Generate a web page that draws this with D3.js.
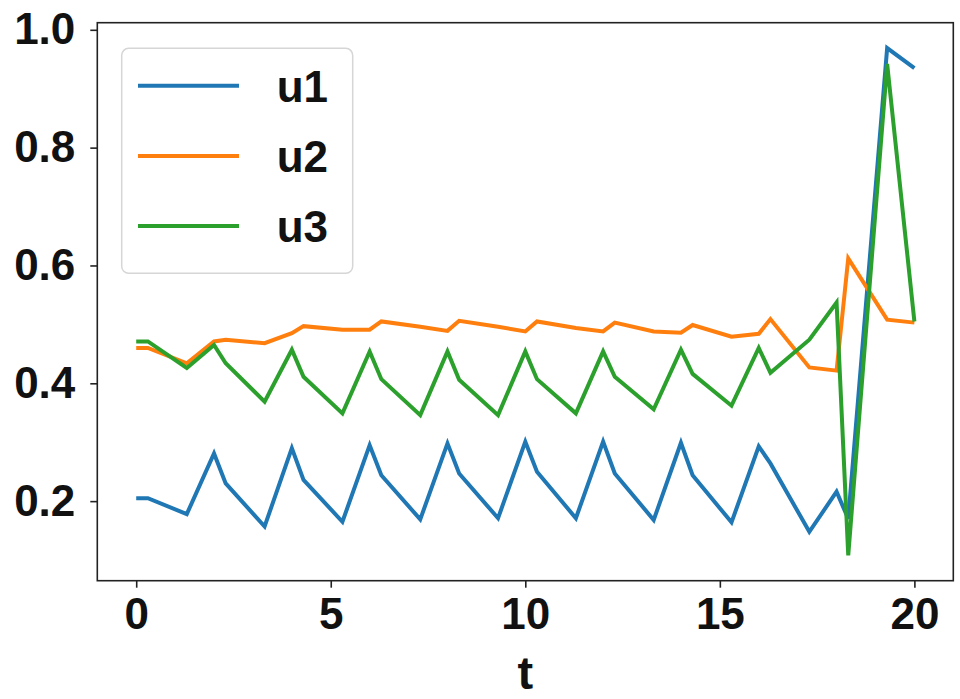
<!DOCTYPE html>
<html>
<head>
<meta charset="utf-8">
<script src="https://cdn.jsdelivr.net/npm/d3@7"></script>
<style>
  body { margin: 0; background: #fff; }
  svg { display: block; }
  text { font-family: "Liberation Sans", Arial, sans-serif; font-weight: bold; }
</style>
</head>
<body>
<div id="chart"></div>
<script>
// time points and the three series
const t = [0, 0.3, 1.3, 2, 2.3, 3.3, 4, 4.3, 5.3, 6, 6.3, 7.3, 8, 8.3, 9.3, 10,
  10.3, 11.3, 12, 12.3, 13.3, 14, 14.3, 15.3, 16, 16.3, 17.3, 18, 18.3, 19.3, 20];

const u1 = [0.205, 0.205, 0.178, 0.281, 0.230, 0.157, 0.290, 0.236, 0.165, 0.295, 0.244,
  0.169, 0.298, 0.247, 0.171, 0.301, 0.250, 0.171, 0.301, 0.247, 0.168, 0.299, 0.244,
  0.164, 0.293, 0.264, 0.148, 0.216, 0.170, 0.969, 0.935];

const u2 = [0.460, 0.460, 0.434, 0.471, 0.474, 0.468, 0.485, 0.497, 0.491, 0.491, 0.505,
  0.496, 0.489, 0.506, 0.496, 0.488, 0.505, 0.494, 0.488, 0.503, 0.488, 0.486, 0.499,
  0.479, 0.484, 0.509, 0.427, 0.4215, 0.612, 0.508, 0.503];

const u3 = [0.471, 0.471, 0.426, 0.465, 0.434, 0.369, 0.457, 0.411, 0.349, 0.454, 0.407,
  0.346, 0.454, 0.406, 0.346, 0.454, 0.407, 0.349, 0.454, 0.411, 0.356, 0.457, 0.416,
  0.362, 0.460, 0.418, 0.474, 0.537, 0.108, 0.942, 0.505];

const seriesNames = ["u1", "u2", "u3"];
const seriesColors = ["#1f77b4", "#ff7f0e", "#2ca02c"];
const xTicks = [0, 5, 10, 15, 20];
const yTicks = [0.2, 0.4, 0.6, 0.8, 1.0];

const width = 960;
const height = 699;
const margin = { top: 22.7, right: 6.7, bottom: 118.3, left: 97.3 };
const innerW = width - margin.left - margin.right;
const innerH = height - margin.top - margin.bottom;

const svg = d3.select("#chart").append("svg")
  .attr("width", width)
  .attr("height", height);

const g = svg.append("g")
  .attr("transform", `translate(${margin.left},${margin.top})`);

// matplotlib style 5% padding on both axes
const pad = (lo, hi) => [lo - (hi - lo) * 0.05, hi + (hi - lo) * 0.05];
const xExt = d3.extent(t);
const yExt = d3.extent([...u1, ...u2, ...u3]);

const x = d3.scaleLinear().domain(pad(xExt[0], xExt[1])).range([0, innerW]);
const y = d3.scaleLinear().domain(pad(yExt[0], yExt[1])).range([innerH, 0]);

const line = d3.line()
  .x((d, i) => x(t[i]))
  .y((d) => y(d));

[u1, u2, u3].forEach((s, k) => {
  g.append("path")
    .datum(s)
    .attr("fill", "none")
    .attr("stroke", seriesColors[k])
    .attr("stroke-width", 4)
    .attr("stroke-linejoin", "miter")
    .attr("d", line);
});

// axes
const xAxis = g.append("g")
  .attr("transform", `translate(0,${innerH})`)
  .call(d3.axisBottom(x).tickValues(xTicks).tickFormat(d3.format("d"))
    .tickSize(7).tickPadding(10));

const yAxis = g.append("g")
  .call(d3.axisLeft(y).tickValues(yTicks).tickFormat(d3.format(".1f"))
    .tickSize(7).tickPadding(15));

[xAxis, yAxis].forEach((a) => {
  a.select(".domain").remove();
  a.selectAll(".tick line").attr("stroke", "#222").attr("stroke-width", 1.6);
  a.selectAll(".tick text")
    .attr("fill", "#111")
    .style("font-size", "44px")
    .style("font-family", "'Liberation Sans', Arial, sans-serif")
    .style("font-weight", "bold");
});

// frame
g.append("rect")
  .attr("width", innerW)
  .attr("height", innerH)
  .attr("fill", "none")
  .attr("stroke", "#222")
  .attr("stroke-width", 1.6);

// x label
svg.append("text")
  .attr("x", margin.left + innerW / 2)
  .attr("y", 689)
  .attr("text-anchor", "middle")
  .attr("fill", "#111")
  .style("font-size", "47px")
  .text("t");

// legend
const legend = svg.append("g").attr("transform", "translate(121.7,48.3)");

legend.append("rect")
  .attr("width", 231)
  .attr("height", 225)
  .attr("rx", 7)
  .attr("fill", "#fff")
  .attr("fill-opacity", 0.8)
  .attr("stroke", "#d6d6d6")
  .attr("stroke-width", 1.5);

const rows = legend.selectAll(".row")
  .data(seriesNames)
  .enter()
  .append("g")
  .attr("transform", (d, i) => `translate(0,${37.4 + i * 70.2})`);

rows.append("line")
  .attr("x1", 16.3)
  .attr("x2", 117.3)
  .attr("stroke", (d, i) => seriesColors[i])
  .attr("stroke-width", 4);

rows.append("text")
  .attr("x", 155)
  .attr("y", 16)
  .attr("fill", "#111")
  .style("font-size", "44px")
  .text((d) => d);
</script>
</body>
</html>
